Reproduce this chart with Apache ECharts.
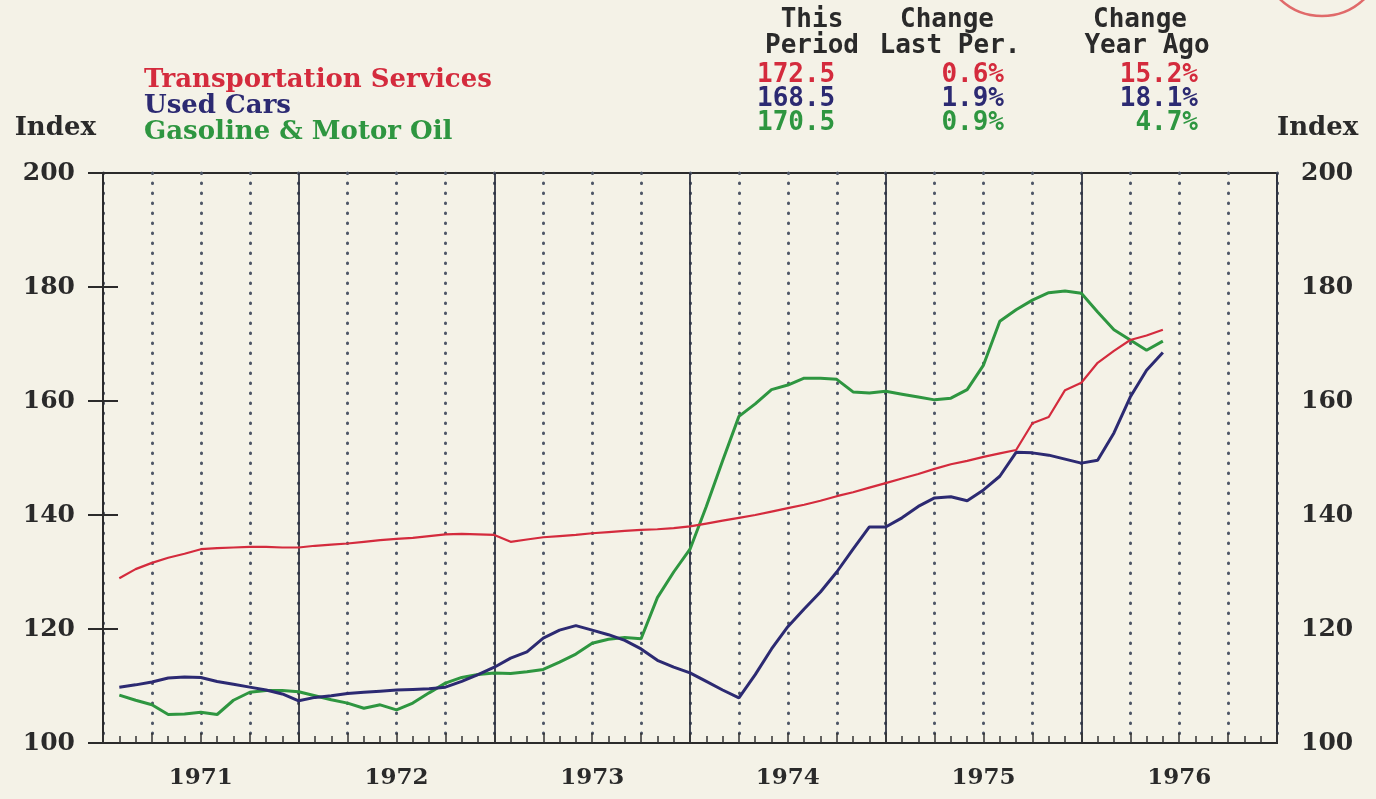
<!DOCTYPE html>
<html>
<head>
<meta charset="utf-8">
<script src="https://cdn.jsdelivr.net/npm/echarts@6/dist/echarts.min.js"></script>
<style>
html, body { margin: 0; padding: 0; background: #f4f2e7; }
#main { width: 1376px; height: 799px; }
</style>
</head>
<body>
<div id="main"></div>
<script>
// monthly index values, month 0 = Jan 1971, first point is Feb 1971
const startMonth = 1
const transportation = [
    128.9, 130.5, 131.6, 132.5, 133.2, 134.0, 134.2, 134.3, 134.4, 134.4, 134.3, 134.3,
    134.6, 134.8, 135.0, 135.3, 135.6, 135.8, 136.0, 136.3, 136.6, 136.7, 136.6, 136.5,
    135.3, 135.7, 136.1, 136.3, 136.5, 136.8, 137.0, 137.2, 137.4, 137.5, 137.7, 138.0,
    138.5, 139.0, 139.5, 140.0, 140.6, 141.2, 141.8, 142.5, 143.3, 144.0, 144.8, 145.6,
    146.4, 147.2, 148.1, 148.9, 149.5, 150.2, 150.8, 151.4, 156.1, 157.2, 161.9, 163.2,
    166.7, 168.8, 170.7, 171.5, 172.5,
]
const usedCars = [
    109.8, 110.2, 110.7, 111.4, 111.6, 111.5, 110.8, 110.3, 109.8, 109.3, 108.6, 107.4,
    108.0, 108.3, 108.7, 108.9, 109.1, 109.3, 109.4, 109.5, 109.8, 110.8, 112.0, 113.3,
    114.9, 116.0, 118.4, 119.8, 120.6, 119.8, 119.0, 118.0, 116.5, 114.5, 113.3, 112.3,
    110.8, 109.3, 107.9, 112.0, 116.5, 120.4, 123.5, 126.5, 130.0, 134.0, 137.9, 137.9,
    139.5, 141.5, 143.0, 143.2, 142.5, 144.4, 146.8, 151.0, 150.9, 150.5, 149.8, 149.1,
    149.6, 154.4, 160.7, 165.4, 168.5,
]
const gasoline = [
    108.4, 107.5, 106.7, 105.0, 105.1, 105.4, 105.0, 107.5, 108.9, 109.2, 109.2, 109.0,
    108.3, 107.6, 107.0, 106.1, 106.7, 105.8, 107.0, 108.8, 110.5, 111.5, 112.0, 112.3,
    112.2, 112.5, 112.9, 114.2, 115.6, 117.5, 118.2, 118.5, 118.3, 125.5, 130.0, 134.0,
    141.5, 149.5, 157.3, 159.5, 162.0, 162.8, 164.0, 164.0, 163.8, 161.6, 161.4, 161.7,
    161.2, 160.7, 160.2, 160.5, 162.0, 166.3, 174.0, 176.0, 177.7, 179.0, 179.3, 178.9,
    175.6, 172.5, 170.7, 168.9, 170.5,
]

const seriesNames = ['Transportation Services', 'Used Cars', 'Gasoline & Motor Oil']
const seriesColors = ['#d42b3d', '#2c2a72', '#2e9640']
const thisPeriod = ['172.5', '168.5', '170.5']
const changeLastPer = ['0.6%', '1.9%', '0.9%']
const changeYearAgo = ['15.2%', '18.1%', '4.7%']
const yearLabels = ['1971', '1972', '1973', '1974', '1975', '1976']
const yTicks = { min: 100, max: 200, step: 20 }

const serif = '"DejaVu Serif", serif'
const mono = '"DejaVu Sans Mono", monospace'
const ink = '#2a2a2a'

function toPairs(arr) {
    return arr.map((v, i) => [startMonth + i, v])
}

function txt(text, x, y, align, color, font) {
    return {
        type: 'text',
        x: x,
        y: y,
        style: {
            text: text,
            fill: color || ink,
            font: font || 'bold 26px ' + mono,
            align: align,
            textAlign: align,
            verticalAlign: 'middle',
            textVerticalAlign: 'middle',
        },
    }
}

let myChart = echarts.init(document.getElementById('main'))

let table = [
    txt('This', 812, 20, 'center'),
    txt('Period', 812, 46, 'center'),
    txt('Change', 947, 20, 'center'),
    txt('Last Per.', 950, 46, 'center'),
    txt('Change', 1140, 20, 'center'),
    txt('Year Ago', 1147, 46, 'center'),
    // axis titles
    txt('Index', 96, 128, 'right', ink, 'bold 26px ' + serif),
    txt('Index', 1277, 128, 'left', ink, 'bold 26px ' + serif),
]
const rowY = [75, 99, 123]
rowY.forEach((y, i) => {
    table.push(txt(thisPeriod[i], 757, y, 'left', seriesColors[i]))
    table.push(txt(changeLastPer[i], 1004, y, 'right', seriesColors[i]))
    table.push(txt(changeYearAgo[i], 1198, y, 'right', seriesColors[i]))
})
// stamp edge in the top right corner
table.push({
    type: 'circle',
    shape: { cx: 1322, cy: -45, r: 61 },
    style: { fill: 'none', stroke: '#e06a6a', lineWidth: 2.5 },
})

const yLabelStyle = { fontFamily: serif, fontWeight: 'bold', fontSize: 25, color: ink }

let option = {
    backgroundColor: '#f4f2e7',
    animation: false,
    grid: {
        left: 103,
        right: 99,
        top: 173,
        bottom: 56,
        show: true,
        borderColor: '#2b2b2b',
        borderWidth: 2,
        backgroundColor: 'transparent',
    },
    legend: {
        orient: 'vertical',
        left: 133,
        top: 62,
        itemWidth: 0,
        itemHeight: 0,
        itemGap: 0,
        textStyle: { fontFamily: serif, fontWeight: 'bold', fontSize: 26, lineHeight: 23.5 },
        data: seriesNames.map((n, i) => ({ name: n, textStyle: { color: seriesColors[i] } })),
    },
    graphic: table,
    xAxis: [
        {
            // monthly ticks along the bottom
            type: 'value', position: 'bottom', min: 0, max: 72, interval: 1,
            axisLine: { show: true, lineStyle: { color: '#2b2b2b', width: 2 } },
            axisTick: { show: true, inside: true, length: 7, lineStyle: { color: '#333', width: 1.5 } },
            axisLabel: { show: false },
            splitLine: { show: false },
        },
        {
            // quarterly dotted lines
            type: 'value', position: 'bottom', min: 0, max: 72, interval: 3,
            axisLine: { show: false },
            axisTick: { show: true, inside: true, length: 10, lineStyle: { color: '#333', width: 1.5 } },
            axisLabel: { show: false },
            splitLine: { show: true, lineStyle: { color: '#4d5566', width: 3, type: [0.5, 9.5], cap: 'round' } },
        },
        {
            // year boundaries
            type: 'value', position: 'bottom', min: 0, max: 72, interval: 12,
            axisLine: { show: false },
            axisTick: { show: false },
            axisLabel: { show: false },
            splitLine: { show: true, lineStyle: { color: '#2f3442', width: 1.8 } },
        },
        {
            // year labels centred in each year
            type: 'value', position: 'bottom', min: 0, max: 72, interval: 6,
            axisLine: { show: false },
            axisTick: { show: false },
            splitLine: { show: false },
            axisLabel: {
                show: true,
                margin: 24,
                fontFamily: serif,
                fontWeight: 'bold',
                fontSize: 23,
                color: ink,
                formatter(v) {
                    return v % 12 === 6 ? yearLabels[(v - 6) / 12] : ''
                },
            },
        },
    ],
    yAxis: [
        {
            type: 'value', position: 'left',
            min: yTicks.min, max: yTicks.max, interval: yTicks.step,
            axisLine: { show: true, lineStyle: { color: '#2b2b2b', width: 2 } },
            axisTick: { show: true, length: 15, lineStyle: { color: '#2b2b2b', width: 2 } },
            axisLabel: Object.assign({ margin: 28 }, yLabelStyle),
            splitLine: { show: false },
        },
        {
            type: 'value', position: 'right',
            min: yTicks.min, max: yTicks.max, interval: yTicks.step,
            axisLine: { show: true, lineStyle: { color: '#2b2b2b', width: 2 } },
            axisTick: { show: true, length: 15, lineStyle: { color: '#2b2b2b', width: 2 } },
            axisLabel: Object.assign({ margin: 24 }, yLabelStyle),
            splitLine: { show: false },
        },
    ],
    series: [
        {
            name: seriesNames[0], type: 'line', data: toPairs(transportation),
            symbol: 'none', color: seriesColors[0],
            lineStyle: { width: 2.2, color: seriesColors[0] },
            z: 5,
        },
        {
            name: seriesNames[1], type: 'line', data: toPairs(usedCars),
            symbol: 'none', color: seriesColors[1],
            lineStyle: { width: 3, color: seriesColors[1] },
            z: 4,
        },
        {
            name: seriesNames[2], type: 'line', data: toPairs(gasoline),
            symbol: 'none', color: seriesColors[2],
            lineStyle: { width: 3, color: seriesColors[2] },
            z: 3,
        },
    ],
}
myChart.setOption(option)
</script>
</body>
</html>
